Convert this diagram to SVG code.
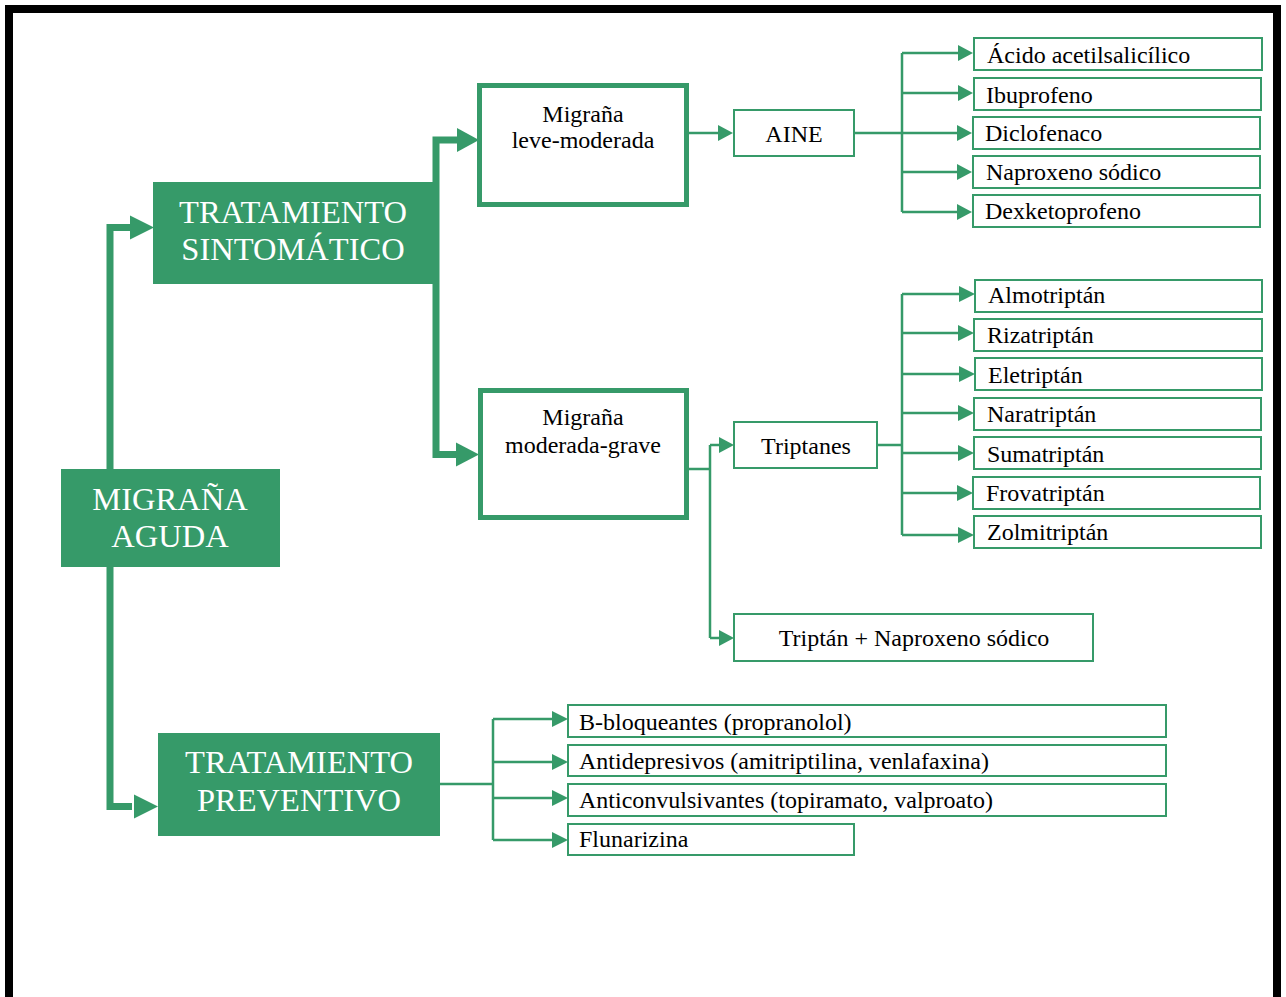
<svg xmlns="http://www.w3.org/2000/svg" width="1286" height="997" viewBox="0 0 1286 997">
<defs>
<style>
.bg{fill:#ffffff}
.frame{fill:none;stroke:#000000;stroke-width:8}
.main{fill:#369A69;stroke:none}
.mt{font-family:"Liberation Serif","Times New Roman",serif;font-size:32.5px;fill:#ffffff;text-anchor:middle}
.sev{fill:#ffffff;stroke:#369A69;stroke-width:5}
.box{fill:#ffffff;stroke:#369A69;stroke-width:2}
.t{font-family:"Liberation Serif","Times New Roman",serif;font-size:24px;fill:#000000}
.c{text-anchor:middle}
.thick{fill:none;stroke:#369A69;stroke-width:7}
.thin{fill:none;stroke:#369A69;stroke-width:2.5}
.head{fill:#369A69}
</style>
</defs>
<rect class="bg" x="0" y="0" width="1286" height="997"/>
<path class="frame" d="M9,1002 V9 H1277 V1002"/>

<g id="connectors">
  <path class="thick" d="M132,227.5 H110 V806.5 H132"/>
  <polygon class="head" points="130,215.5 154,227.5 130,239.5"/>
  <polygon class="head" points="134,794.5 158,806.5 134,818.5"/>
  <path class="thick" d="M460,140 H436 V454.5 H458"/>
  <polygon class="head" points="457,128 479,140 457,152"/>
  <polygon class="head" points="456,442.5 479,454.5 456,466.5"/>
  <path class="thin" d="M689,133 H720"/>
  <polygon class="head" points="718,125 733,133 718,141"/>
  <path class="thin" d="M855,133 H902 M902,53 V212 M902,53 H960 M902,93 H960 M902,133 H960 M902,172 H960 M902,212 H960"/>
  <polygon class="head" points="958,45 973,53 958,61"/>
  <polygon class="head" points="958,85 973,93 958,101"/>
  <polygon class="head" points="957,125 972,133 957,141"/>
  <polygon class="head" points="957,164 972,172 957,180"/>
  <polygon class="head" points="957,204 972,212 957,220"/>
  <path class="thin" d="M689,469 H710 M710,445 V638 M710,445 H721 M710,638 H721"/>
  <polygon class="head" points="719,437 734,445 719,453"/>
  <polygon class="head" points="719,630 734,638 719,646"/>
  <path class="thin" d="M878,445 H902 M902,294 V535 M902,294 H961 M902,333 H961 M902,374 H961 M902,413 H961 M902,453 H961 M902,493 H961 M902,535 H961"/>
  <polygon class="head" points="959,286 975,294 959,302"/>
  <polygon class="head" points="958,325 974,333 958,341"/>
  <polygon class="head" points="959,366 975,374 959,382"/>
  <polygon class="head" points="958,405 974,413 958,421"/>
  <polygon class="head" points="958,445 974,453 958,461"/>
  <polygon class="head" points="957,485 973,493 957,501"/>
  <polygon class="head" points="958,527 974,535 958,543"/>
  <path class="thin" d="M440,784 H493 M493,719 V840 M493,719 H555 M493,762 H555 M493,798 H555 M493,840 H555"/>
  <polygon class="head" points="552,711 568,719 552,727"/>
  <polygon class="head" points="552,754 568,762 552,770"/>
  <polygon class="head" points="552,790 568,798 552,806"/>
  <polygon class="head" points="552,832 568,840 552,848"/>
</g>

<g id="migrana-aguda">
  <rect class="main" x="61" y="469" width="219" height="98"/>
  <text class="mt" x="170" y="510">MIGRAÑA</text>
  <text class="mt" x="170" y="547">AGUDA</text>
</g>
<g id="tratamiento-sintomatico">
  <rect class="main" x="153" y="182" width="280" height="102"/>
  <text class="mt" x="293" y="223">TRATAMIENTO</text>
  <text class="mt" x="293" y="260">SINTOMÁTICO</text>
</g>
<g id="tratamiento-preventivo">
  <rect class="main" x="158" y="733" width="282" height="103"/>
  <text class="mt" x="299" y="773">TRATAMIENTO</text>
  <text class="mt" x="299" y="811">PREVENTIVO</text>
</g>

<g id="migrana-leve-moderada">
  <rect class="sev" x="479.5" y="85.5" width="207" height="119"/>
  <text class="t c" x="583" y="122">Migraña</text>
  <text class="t c" x="583" y="148">leve-moderada</text>
</g>
<g id="migrana-moderada-grave">
  <rect class="sev" x="480.5" y="390.5" width="206" height="127"/>
  <text class="t c" x="583" y="425">Migraña</text>
  <text class="t c" x="583" y="453">moderada-grave</text>
</g>

<g id="aine">
  <rect class="box" x="734" y="110" width="120" height="46"/>
  <text class="t c" x="794" y="142">AINE</text>
</g>
<g id="triptanes">
  <rect class="box" x="734" y="422" width="143" height="46"/>
  <text class="t c" x="806" y="454">Triptanes</text>
</g>
<g id="triptan-naproxeno">
  <rect class="box" x="734" y="614" width="359" height="47"/>
  <text class="t c" x="914" y="646">Triptán + Naproxeno sódico</text>
</g>

<g id="acido-acetilsalicilico">
  <rect class="box" x="974" y="38" width="288" height="32"/>
  <text class="t" x="987" y="63">Ácido acetilsalicílico</text>
</g>
<g id="ibuprofeno">
  <rect class="box" x="974" y="78" width="287" height="32"/>
  <text class="t" x="986" y="103">Ibuprofeno</text>
</g>
<g id="diclofenaco">
  <rect class="box" x="973" y="117" width="287" height="32"/>
  <text class="t" x="985" y="141">Diclofenaco</text>
</g>
<g id="naproxeno-sodico">
  <rect class="box" x="973" y="156" width="287" height="32"/>
  <text class="t" x="986" y="180">Naproxeno sódico</text>
</g>
<g id="dexketoprofeno">
  <rect class="box" x="973" y="195" width="287" height="32"/>
  <text class="t" x="985" y="219">Dexketoprofeno</text>
</g>

<g id="almotriptan">
  <rect class="box" x="975" y="280" width="287" height="32"/>
  <text class="t" x="988" y="303">Almotriptán</text>
</g>
<g id="rizatriptan">
  <rect class="box" x="974" y="319" width="288" height="32"/>
  <text class="t" x="987" y="343">Rizatriptán</text>
</g>
<g id="eletriptan">
  <rect class="box" x="975" y="358" width="287" height="32"/>
  <text class="t" x="988" y="383">Eletriptán</text>
</g>
<g id="naratriptan">
  <rect class="box" x="974" y="398" width="287" height="32"/>
  <text class="t" x="987" y="422">Naratriptán</text>
</g>
<g id="sumatriptan">
  <rect class="box" x="974" y="437" width="287" height="32"/>
  <text class="t" x="987" y="462">Sumatriptán</text>
</g>
<g id="frovatriptan">
  <rect class="box" x="973" y="477" width="287" height="32"/>
  <text class="t" x="986" y="501">Frovatriptán</text>
</g>
<g id="zolmitriptan">
  <rect class="box" x="974" y="516" width="287" height="32"/>
  <text class="t" x="987" y="540">Zolmitriptán</text>
</g>

<g id="b-bloqueantes">
  <rect class="box" x="568" y="705" width="598" height="32"/>
  <text class="t" x="579" y="730">B-bloqueantes (propranolol)</text>
</g>
<g id="antidepresivos">
  <rect class="box" x="568" y="745" width="598" height="31"/>
  <text class="t" x="579" y="769">Antidepresivos (amitriptilina, venlafaxina)</text>
</g>
<g id="anticonvulsivantes">
  <rect class="box" x="568" y="784" width="598" height="32"/>
  <text class="t" x="579" y="808">Anticonvulsivantes (topiramato, valproato)</text>
</g>
<g id="flunarizina">
  <rect class="box" x="568" y="824" width="286" height="31"/>
  <text class="t" x="579" y="847">Flunarizina</text>
</g>
</svg>
